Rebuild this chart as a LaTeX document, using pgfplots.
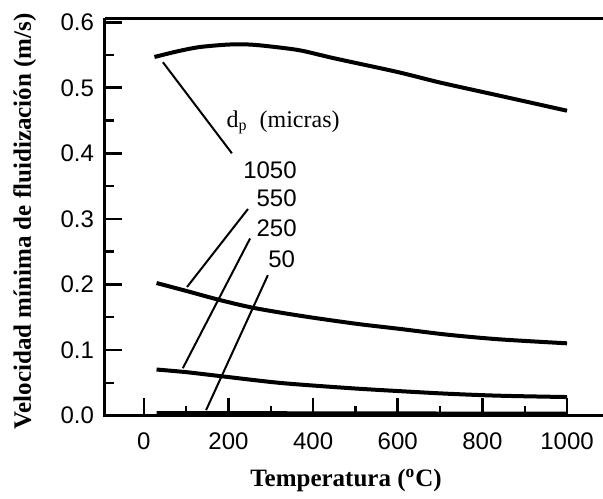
\documentclass[border=0pt]{standalone}
\usepackage{fontspec}
\setmainfont{Liberation Serif}
\setsansfont{Liberation Sans}
\usepackage{pgfplots}
\pgfplotsset{compat=1.18}

\begin{document}
\begin{tikzpicture}
\begin{axis}[
    scale only axis,
    width=249pt, height=198.5pt,
    xmin=-92, xmax=1085,
    ymin=0, ymax=0.606,
    clip=false,
    axis line style={draw=none},
    xtick={0,200,...,1000},
    ytick={0,0.1,...,0.6},
    minor x tick num=1,
    minor y tick num=1,
    xtick pos=bottom, ytick pos=left,
    tick align=inside,
    major tick length=8.5pt,
    minor tick length=4.5pt,
    every major tick/.append style={line width=1.3pt, black},
    every minor tick/.append style={line width=1.1pt, black},
    /pgf/number format/assume math mode=true,
    tick label style={font=\sffamily\fontsize{12}{14}\selectfont},
    xticklabel style={/pgf/number format/1000 sep={}, yshift=-5pt},
    yticklabel style={/pgf/number format/.cd, fixed, fixed zerofill, precision=1, /tikz/.cd, xshift=-2pt},
    xlabel={\textbf{Temperatura (\textsuperscript{o}C)}},
    ylabel={\textbf{Velocidad mínima de fluidización (m/s)}},
    label style={font=\fontsize{12.5}{14}\selectfont},
    xlabel style={at={(axis description cs:0.484,-0.164)}, anchor=center},
    ylabel style={at={(axis description cs:-0.161,0.489)}, anchor=center},
]
% 1050 micras
\addplot[black, line width=2pt, smooth] coordinates {
(25,0.547) (75,0.555) (130,0.562) (200,0.566) (250,0.566) (300,0.563)
(370,0.557) (450,0.545) (600,0.524) (700,0.508) (840,0.488) (1000,0.465)};
% 550 micras
\addplot[black, line width=2pt, smooth] coordinates {
(30,0.202) (100,0.190) (180,0.176) (260,0.164) (370,0.152) (500,0.140)
(605,0.132) (720,0.123) (842,0.116) (1000,0.110)};
% 250 micras
\addplot[black, line width=2pt, smooth] coordinates {
(30,0.070) (100,0.066) (180,0.060) (300,0.051) (370,0.047) (500,0.041)
(605,0.037) (720,0.033) (842,0.030) (1000,0.028)};
% 50 micras
\addplot[black, line width=2.4pt] coordinates {
(30,0.003) (200,0.003) (400,0.0025) (600,0.0025) (800,0.002) (1000,0.002)};

% axis frame: left, bottom, top
\draw[line width=1.5pt] (rel axis cs:0,1) -- (rel axis cs:0,0) -- (rel axis cs:1,0);
\draw[line width=1.2pt] (rel axis cs:0,1) -- (rel axis cs:1,1);

% leader lines
\draw[line width=1pt] (axis cs:45,0.539) -- (axis cs:208,0.400);
\draw[line width=1pt] (axis cs:102,0.196) -- (axis cs:246,0.315);
\draw[line width=1pt] (axis cs:92,0.072) -- (axis cs:251,0.270);
\draw[line width=1pt] (axis cs:147,0.008) -- (axis cs:293,0.214);

\node[font=\fontsize{12}{14}\selectfont] at (axis cs:329,0.447) {d\textsubscript{p}~~(micras)};
\begin{scope}[every node/.style={anchor=east, font=\sffamily\fontsize{12}{14}\selectfont, inner sep=0pt}]
\node at (axis cs:362,0.374) {1050};
\node at (axis cs:362,0.331) {550};
\node at (axis cs:362,0.286) {250};
\node at (axis cs:358,0.239) {50};
\end{scope}

\coordinate (pgTL) at (axis cs:-340,0.634);
\coordinate (pgBR) at (axis cs:1085,-0.127);
\end{axis}
\pgfresetboundingbox
\path (pgTL) rectangle (pgBR);
\end{tikzpicture}
\end{document}
